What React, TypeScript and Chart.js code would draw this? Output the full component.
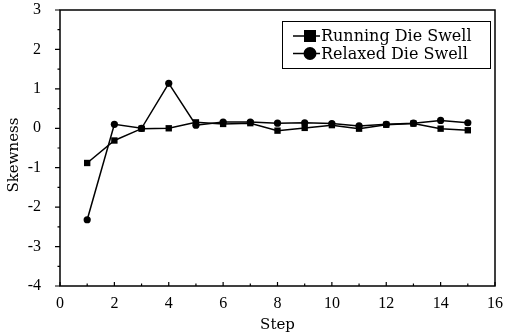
import React, { useEffect, useRef } from 'react';
import { Chart, registerables } from 'chart.js';

Chart.register(...registerables);

const steps = [1, 2, 3, 4, 5, 6, 7, 8, 9, 10, 11, 12, 13, 14, 15];
const runningDieSwell = [-0.88, -0.31, -0.01, 0.0, 0.15, 0.11, 0.13, -0.06, 0.01, 0.08, -0.01, 0.09, 0.12, -0.01, -0.05];
const relaxedDieSwell = [-2.32, 0.1, 0.0, 1.14, 0.08, 0.16, 0.16, 0.13, 0.14, 0.12, 0.06, 0.1, 0.13, 0.2, 0.14];
const seriesLabels = ['Running Die Swell', 'Relaxed Die Swell'];
const xTicks = [0, 2, 4, 6, 8, 10, 12, 14, 16];
const yTicks = [-4, -3, -2, -1, 0, 1, 2, 3];
const xTitle = 'Step';
const yTitle = 'Skewness';

const TICK_FONT = "'Liberation Serif', serif";
const TEXT_FONT = "'DejaVu Serif', serif";

const frameTicks = {
  id: 'frameTicks',
  afterDraw(chart: any) {
    const { ctx, chartArea: a, scales } = chart;
    const x = scales.x;
    const y = scales.y;
    ctx.save();
    ctx.strokeStyle = '#000';
    ctx.lineWidth = 1.5;
    ctx.strokeRect(a.left, a.top, a.right - a.left, a.bottom - a.top);
    ctx.lineWidth = 1.2;
    ctx.beginPath();
    for (let i = 0; i < xTicks.length; i++) {
      const px = x.getPixelForValue(xTicks[i]);
      ctx.moveTo(px, a.bottom);
      ctx.lineTo(px, a.bottom - 4);
      if (i < xTicks.length - 1) {
        const mx = x.getPixelForValue((xTicks[i] + xTicks[i + 1]) / 2);
        ctx.moveTo(mx, a.bottom);
        ctx.lineTo(mx, a.bottom - 2.5);
      }
    }
    for (let i = 0; i < yTicks.length; i++) {
      const py = y.getPixelForValue(yTicks[i]);
      ctx.moveTo(a.left - 5, py);
      ctx.lineTo(a.left, py);
      if (i < yTicks.length - 1) {
        const my = y.getPixelForValue((yTicks[i] + yTicks[i + 1]) / 2);
        ctx.moveTo(a.left - 2.5, my);
        ctx.lineTo(a.left, my);
      }
    }
    ctx.stroke();

    // y axis title
    ctx.fillStyle = '#000';
    ctx.save();
    ctx.translate(14, (a.top + a.bottom) / 2 + 7);
    ctx.rotate(-Math.PI / 2);
    ctx.font = `15px ${TEXT_FONT}`;
    ctx.textAlign = 'center';
    ctx.textBaseline = 'middle';
    ctx.fillText(yTitle, 0, 0);
    ctx.restore();

    // legend
    const boxRight = a.right - 5;
    const boxLeft = boxRight - 208;
    const boxTop = a.top + 11;
    const boxBottom = boxTop + 47;
    ctx.lineWidth = 1;
    ctx.strokeRect(boxLeft + 0.5, boxTop + 0.5, boxRight - boxLeft, boxBottom - boxTop);
    const rows = [boxTop + 15, boxTop + 32.5];
    ctx.font = `16px ${TEXT_FONT}`;
    ctx.textBaseline = 'middle';
    ctx.textAlign = 'left';
    chart.data.datasets.forEach((ds: any, i: number) => {
      const ry = rows[i];
      ctx.lineWidth = 1.5;
      ctx.beginPath();
      ctx.moveTo(boxLeft + 11, ry);
      ctx.lineTo(boxLeft + 38, ry);
      ctx.stroke();
      const cx = boxLeft + 28;
      ctx.beginPath();
      if (ds.pointStyle === 'rect') {
        ctx.rect(cx - 6, ry - 6, 12, 12);
      } else {
        ctx.arc(cx, ry, 6.5, 0, Math.PI * 2);
      }
      ctx.fill();
      ctx.fillText(ds.label, boxLeft + 39, ry + 1);
    });
    ctx.restore();
  },
};

export default function App() {
  const ref = useRef<HTMLCanvasElement>(null);
  useEffect(() => {
    if (!ref.current) return;
    const chart = new Chart(ref.current, {
      type: 'line',
      data: {
        datasets: [
          {
            label: seriesLabels[0],
            data: steps.map((s, i) => ({ x: s, y: runningDieSwell[i] })),
            borderColor: '#000',
            backgroundColor: '#000',
            borderWidth: 1.5,
            pointStyle: 'rect',
            pointRadius: 4.5,
            pointBorderWidth: 0,
            tension: 0,
          },
          {
            label: seriesLabels[1],
            data: steps.map((s, i) => ({ x: s, y: relaxedDieSwell[i] })),
            borderColor: '#000',
            backgroundColor: '#000',
            borderWidth: 1.5,
            pointStyle: 'circle',
            pointRadius: 3.6,
            pointBorderWidth: 0,
            tension: 0,
          },
        ],
      },
      options: {
        animation: false,
        responsive: false,
        devicePixelRatio: 1,
        layout: { padding: { top: 10, right: 17, left: 0, bottom: 0 } },
        plugins: { legend: { display: false }, tooltip: { enabled: false } },
        scales: {
          x: {
            type: 'linear',
            min: 0,
            max: 16,
            afterBuildTicks: (s: any) => {
              s.ticks = xTicks.map((v) => ({ value: v }));
            },
            afterFit: (s: any) => {
              s.height = 48;
              s.paddingLeft = 0;
              s.paddingRight = 0;
            },
            grid: { display: false },
            border: { display: false },
            ticks: {
              color: '#000',
              font: { family: TICK_FONT, size: 16 },
              padding: 0,
              maxRotation: 0,
            },
            title: {
              display: true,
              text: xTitle,
              color: '#000',
              font: { family: TEXT_FONT, size: 15 },
              padding: { top: 0, bottom: 0 },
            },
          },
          y: {
            type: 'linear',
            min: -4,
            max: 3,
            afterBuildTicks: (s: any) => {
              s.ticks = yTicks.map((v) => ({ value: v }));
            },
            afterFit: (s: any) => {
              s.width = 60;
              s.paddingTop = 0;
              s.paddingBottom = 0;
            },
            grid: { display: false },
            border: { display: false },
            ticks: {
              color: '#000',
              font: { family: TICK_FONT, size: 16 },
              padding: 11,
            },
            title: { display: false },
          },
        },
      },
      plugins: [frameTicks],
    } as any);
    return () => chart.destroy();
  }, []);
  return (
    <div style={{ position: 'absolute', left: 0, top: 0, width: 512, height: 334, background: '#fff' }}>
      <canvas ref={ref} width={512} height={334} style={{ display: 'block', width: 512, height: 334 }} />
    </div>
  );
}
